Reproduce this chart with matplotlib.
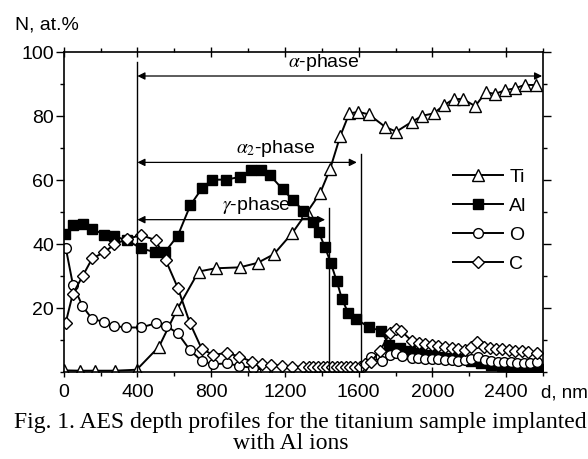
import matplotlib
matplotlib.use("Agg")
import matplotlib.pyplot as plt
from matplotlib.ticker import MultipleLocator

plt.rcParams['font.family'] = ['Liberation Sans', 'DejaVu Sans']
plt.rcParams['mathtext.fontset'] = 'stix'

# ---- data ----
ti_x = [0, 88, 171, 279, 396, 517, 616, 732, 824, 955, 1052, 1140, 1241, 1322, 1391, 1445,
        1500, 1549, 1599, 1655, 1744, 1804, 1889, 1946, 2006, 2064, 2115, 2165, 2232, 2290,
        2341, 2395, 2446, 2500, 2563]
ti_y = [0.6, 0.5, 0.5, 0.5, 0.8, 8.0, 19.7, 31.5, 32.5, 32.8, 34.2, 36.9, 43.6, 50.2, 56.0, 63.5,
        73.8, 80.9, 81.4, 80.6, 76.7, 75.2, 78.3, 80.2, 80.9, 83.5, 85.4, 85.4, 83.2, 87.5,
        87.0, 88.2, 88.7, 89.8, 89.8]

al_x = [7, 49, 103, 155, 220, 275, 342, 421, 498, 551, 619, 687, 750, 805, 883, 957, 1018, 1068,
        1117, 1188, 1242, 1300, 1351, 1384, 1416, 1448, 1481, 1510, 1543, 1588, 1655, 1722, 1765,
        1825, 1880, 1935, 1990, 2045, 2100, 2155, 2210, 2265, 2320, 2375, 2430, 2485, 2540, 2590]
al_y = [43.1, 46.0, 46.3, 44.8, 43.0, 42.5, 41.3, 38.7, 37.5, 37.7, 42.7, 52.2, 57.5, 60.2, 60.2,
        61.1, 63.1, 63.1, 61.7, 57.2, 53.9, 50.5, 47.0, 43.7, 39.3, 34.3, 28.5, 22.8, 18.6, 16.7,
        14.0, 13.0, 8.5, 7.6, 6.8, 6.0, 5.4, 4.9, 4.5, 4.1, 3.5, 2.8, 2.3, 2.0, 1.6, 1.2, 1.1, 1.1]

o_x = [11, 50, 102, 155, 220, 275, 336, 419, 499, 553, 619, 684, 749, 812, 884, 953, 1029,
       1090, 1150, 1210, 1270, 1330, 1390, 1450, 1510, 1570, 1620, 1666, 1725, 1769, 1801, 1836,
       1888, 1924, 1960, 1997, 2033, 2070, 2105, 2140, 2175, 2212, 2250, 2283, 2318, 2355, 2390,
       2425, 2460, 2495, 2530, 2567]
o_y = [39.0, 27.4, 20.7, 16.6, 15.8, 14.5, 14.0, 14.0, 15.3, 14.6, 12.2, 7.0, 3.5, 2.5, 2.8,
       2.0, 1.3, 0.8, 0.6, 0.5, 0.5, 0.5, 0.5, 0.5, 0.6, 0.8, 1.5, 4.7, 3.4, 5.5, 5.9, 5.1,
       4.5, 4.4, 4.3, 4.1, 4.0, 3.9, 3.7, 3.5, 3.7, 4.3, 4.8, 3.9, 3.5, 3.3, 3.2,
       3.1, 3.0, 3.0, 2.9, 3.1]

c_x = [11, 49, 103, 155, 220, 275, 342, 419, 499, 553, 619, 684, 749, 812, 884, 953, 1022,
       1075, 1125, 1185, 1240, 1297, 1330, 1355, 1380, 1405, 1430, 1455, 1480, 1505, 1530, 1555,
       1580, 1605, 1635, 1666, 1717, 1769, 1800, 1832, 1888, 1925, 1960, 1997, 2033, 2070, 2105,
       2140, 2175, 2212, 2242, 2278, 2312, 2345, 2380, 2415, 2450, 2485, 2520, 2565]
c_y = [15.5, 24.4, 30.1, 35.6, 37.5, 40.0, 41.6, 42.9, 41.3, 35.1, 26.4, 15.5, 7.3, 5.4, 6.1,
       4.9, 3.3, 2.6, 2.3, 2.0, 1.8, 1.7, 1.6, 1.6, 1.6, 1.6, 1.6, 1.6, 1.6, 1.6, 1.6, 1.6,
       1.7, 1.8, 2.5, 3.2, 6.8, 12.3, 13.6, 12.9, 9.8, 9.2, 8.8, 8.6, 8.2, 7.9, 7.5,
       7.2, 7.0, 8.0, 9.4, 8.0, 7.6, 7.4, 7.2, 6.9, 6.7, 6.5, 6.3, 6.0]

x_ticks = [0, 400, 800, 1200, 1600, 2000, 2400]
y_ticks = [20, 40, 60, 80, 100]

# phase boundaries / arrows
bound_alpha_start = 400
bound_gamma_end = 1440
bound_alpha2_end = 1610

fig = plt.figure(figsize=(5.88, 4.59), dpi=100)
ax = fig.add_axes([0.1083, 0.1889, 0.8152, 0.6971])

ms_kw = dict(color='black', lw=1.4, mec='black', mew=1.0)
ax.plot(ti_x, ti_y, marker='^', ms=8.5, mfc='white', label='Ti', **ms_kw)
ax.plot(al_x, al_y, marker='s', ms=6.5, mfc='black', label='Al', **ms_kw)
ax.plot(o_x, o_y, marker='o', ms=7, mfc='white', label='O', **ms_kw)
ax.plot(c_x, c_y, marker='D', ms=6.5, mfc='white', label='C', **ms_kw)

ax.set_xlim(0, 2600)
ax.set_ylim(0, 100)
ax.set_xticks(x_ticks)
ax.set_xticklabels([str(v) for v in x_ticks])
ax.set_yticks(y_ticks)
ax.set_yticklabels([str(v) for v in y_ticks])
ax.xaxis.set_minor_locator(MultipleLocator(200))
ax.yaxis.set_minor_locator(MultipleLocator(10))
ax.tick_params(axis='both', labelsize=14)
ax.tick_params(axis='x', which='major', direction='inout', length=7, width=1, pad=5,
               top=True)
ax.tick_params(axis='x', which='minor', direction='out', length=3, width=1, top=True)
ax.tick_params(axis='y', which='major', direction='out', length=6, width=1, pad=1,
               right=True)
ax.tick_params(axis='y', which='minor', direction='out', length=3, width=1, right=True)
for s in ax.spines.values():
    s.set_linewidth(1.2)

# phase boundaries
ax.plot([bound_alpha_start, bound_alpha_start], [0, 97], color='black', lw=1.0)
ax.plot([bound_gamma_end, bound_gamma_end], [0, 51.3], color='black', lw=1.0)
ax.plot([bound_alpha2_end, bound_alpha2_end], [0, 68.2], color='black', lw=1.0)

arrow_kw = dict(arrowstyle='<|-|>', color='black', lw=0.9, mutation_scale=11,
                shrinkA=0, shrinkB=0)
ax.annotate('', xy=(2595, 92.6), xytext=(bound_alpha_start, 92.6), arrowprops=arrow_kw)
ax.annotate('', xy=(1590, 65.6), xytext=(bound_alpha_start, 65.6), arrowprops=arrow_kw)
ax.annotate('', xy=(1418, 47.7), xytext=(bound_alpha_start, 47.7), arrowprops=arrow_kw)

ax.text(1410, 93.6, r'$\alpha$-phase', fontsize=14, ha='center', va='bottom')
ax.text(1150, 66.6, r'$\alpha_2$-phase', fontsize=14, ha='center', va='bottom')
ax.text(1045, 48.7, r'$\gamma$-phase', fontsize=14, ha='center', va='bottom')

leg = ax.legend(loc='upper left', bbox_to_anchor=(0.812, 0.637), frameon=False,
                fontsize=14, handlelength=2.6, handletextpad=0.3, labelspacing=0.58,
                borderpad=0, borderaxespad=0)

# axis titles
fig.text(15 / 588, 1 - 29 / 459, 'N, at.%', fontsize=14, ha='left', va='baseline')
fig.text(541 / 588, 1 - 398 / 459, 'd, nm', fontsize=13.5, ha='left', va='baseline')

# caption
cap_font = ['Liberation Serif', 'DejaVu Serif']
fig.text(14 / 588, 1 - 428 / 459,
         'Fig. 1. AES depth profiles for the titanium sample implanted',
         fontsize=17, family=cap_font, ha='left', va='baseline')
fig.text(233 / 588, 1 - 449 / 459, 'with Al ions',
         fontsize=17, family=cap_font, ha='left', va='baseline')

fig.savefig('out.png', dpi=100)
